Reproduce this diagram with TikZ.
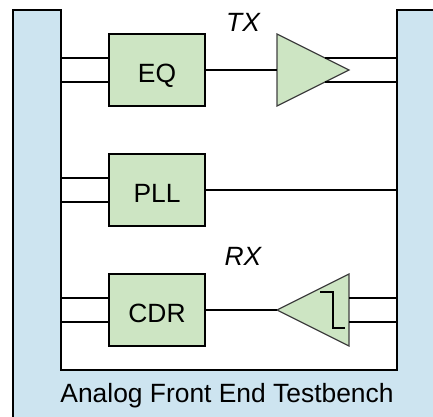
\documentclass[tikz,border=0pt]{standalone}
\usepackage{fontspec}
\setmainfont{Liberation Sans}
\usetikzlibrary{shapes.geometric}
\begin{document}
\begin{tikzpicture}
[x=1pt,y=-1pt,
wire/.style={draw=black,line width=1.7pt},
frame/.style={draw=black,line width=2pt,fill=testbench},
block/.style={rectangle,draw=black,line width=2pt,fill=analog,minimum width=96pt,minimum height=72pt,inner sep=0pt,text height=24pt,text depth=0pt,font=\fontsize{26.4}{30}\selectfont},
amp/.style={isosceles triangle,isosceles triangle stretches,draw=black!75,line width=1.2pt,fill=analog,minimum width=72pt,minimum height=72pt,inner sep=0pt,outer sep=0pt,anchor=lower side},
tag/.style={font=\fontsize{26.4}{30}\selectfont\itshape,inner sep=0pt,anchor=base},
title/.style={font=\fontsize{26.4}{30}\selectfont,inner sep=0pt,anchor=base}]
\definecolor{testbench}{HTML}{CDE4F0}
\definecolor{analog}{HTML}{CDE5C3}
\useasboundingbox (0,0) rectangle (433,416);
\clip (0,0) rectangle (433,416);
\draw[frame] (13,10) -- (61,10) -- (61,370) -- (397,370) -- (397,10) -- (445,10) -- (445,430) -- (13,430) -- cycle;
\coordinate (wallL) at (61,190);
\coordinate (wallR) at (397,190);
\node[block] (eq) at (157,70) {EQ};
\node[block] (pll) at (157,190) {PLL};
\node[block] (cdr) at (157,310) {CDR};
\node[amp] (tx) at (277,70) {};
\node[amp,shape border rotate=180] (rx) at (349,310) {};
\node[tag] (txlabel) at (243,31) {TX};
\node[tag] (rxlabel) at (243,265.5) {RX};
\node[title] (name) at (227,402) {Analog Front End Testbench};
% left side
\foreach \blk in {eq,pll,cdr}
{
  \draw[wire] ([yshift=12pt]\blk.west) -- ([yshift=12pt]\blk.west -| wallL);
  \draw[wire] ([yshift=-12pt]\blk.west) -- ([yshift=-12pt]\blk.west -| wallL);
}
% right side
\draw[wire] (eq.east) -- (tx.lower side);
\draw[wire] (pll.east) -- (pll.east -| wallR);
\draw[wire] (cdr.east) -- (rx.apex);
\foreach \off in {12pt,-12pt}
{
  \draw[wire] ([yshift=\off,xshift=-24pt]tx.apex) -- ([yshift=\off]tx.apex -| wallR);
  \draw[wire] ([yshift=\off]rx.lower side) -- ([yshift=\off]rx.lower side -| wallR);
}
% hysteresis
\draw[wire] ([shift={(-29pt,18pt)}]rx.lower side) -- ++(13pt,0) -- ++(0,36) -- ++(12pt,0);
\end{tikzpicture}
\end{document}
